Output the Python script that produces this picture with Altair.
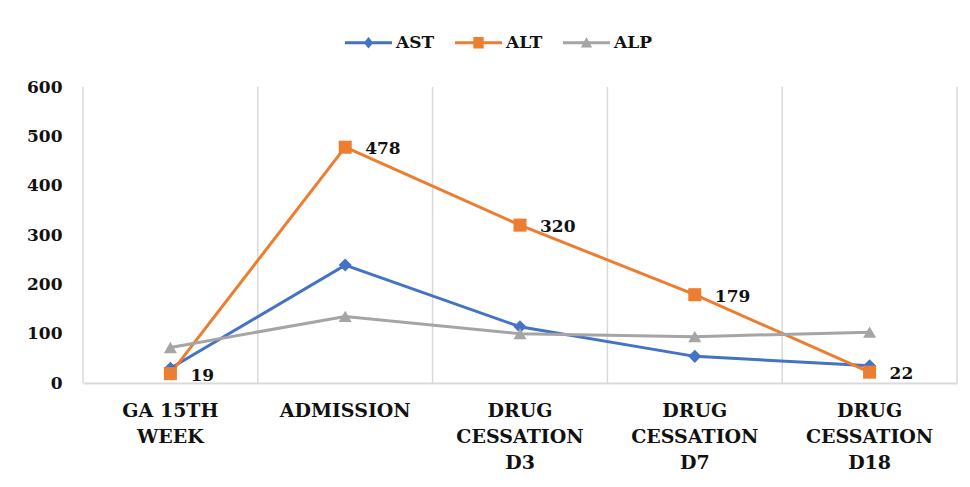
import altair as alt
import pandas as pd

categories = ["GA 15TH|WEEK", "ADMISSION", "DRUG|CESSATION|D3", "DRUG|CESSATION|D7", "DRUG|CESSATION|D18"]
series_names = ["AST", "ALT", "ALP"]
ast = [30, 239, 114, 54, 35]
alt_vals = [19, 478, 320, 179, 22]
alp = [72, 135, 100, 94, 103]
y_ticks = [0, 100, 200, 300, 400, 500, 600]
colors = ["#4472C4", "#ED7D31", "#A5A5A5"]
shapes = ["diamond", "square", "triangle-up"]

rows = []
for name, vals in zip(series_names, [ast, alt_vals, alp]):
    for c, v in zip(categories, vals):
        rows.append({"cat": c, "series": name, "value": v})
df = pd.DataFrame(rows)

FONT = "DejaVu Serif"

# legend symbols: line segment + marker, drawn as filled paths
seg = "M-1,-0.064H1V0.064H-1Z"
legend_shapes = [
    seg + "M0,-0.24L0.2,0L0,0.24L-0.2,0Z",
    seg + "M-0.22,-0.24H0.22V0.24H-0.22Z",
    seg + "M0,-0.24L0.24,0.2L-0.24,0.2Z",
]

x_scale = alt.Scale(domain=categories, paddingInner=0, paddingOuter=0)
x_enc = alt.X("cat:N", sort=categories, scale=x_scale,
              axis=alt.Axis(title=None, labelExpr="split(datum.label, '|')", labelAngle=0,
                            labelFont=FONT, labelFontSize=19, labelFontWeight="bold",
                            labelColor="#111111", labelLineHeight=26, labelPadding=18,
                            labelBaseline="top", labelAlign="center",
                            ticks=False, domain=True, domainColor="#d9d9d9", domainWidth=2,
                            grid=False))
y_enc = alt.Y("value:Q", scale=alt.Scale(domain=[0, 600]),
              axis=alt.Axis(title=None, values=y_ticks, grid=False, domain=False, ticks=False,
                            labelFont=FONT, labelFontSize=17, labelFontWeight="bold",
                            labelColor="#111111", labelPadding=21))
color_scale = alt.Scale(domain=series_names, range=colors)
color_nolegend = alt.Color("series:N", sort=series_names, scale=color_scale, legend=None)

base = alt.Chart(df)

# vertical separators at band edges
grid_df = pd.DataFrame({"cat": categories, "lo": [0] * len(categories), "hi": [600] * len(categories)})
grid_start = alt.Chart(grid_df).mark_rule(color="#d9d9d9", strokeWidth=1.5).encode(
    x=alt.X("cat:N", sort=categories, scale=x_scale, bandPosition=0),
    y=alt.Y("lo:Q"), y2="hi:Q")
grid_end = alt.Chart(grid_df).transform_filter(
    alt.datum.cat == categories[-1]).mark_rule(color="#d9d9d9", strokeWidth=1.5).encode(
    x=alt.X("cat:N", sort=categories, scale=x_scale, bandPosition=1),
    y=alt.Y("lo:Q"), y2="hi:Q")

lines = base.mark_line(strokeWidth=3).encode(x=x_enc, y=y_enc, color=color_nolegend)
points = base.mark_point(filled=True, opacity=1, size=170).encode(
    x=x_enc, y=y_enc, color=color_nolegend,
    shape=alt.Shape("series:N", sort=series_names,
                    scale=alt.Scale(domain=series_names, range=shapes), legend=None),
)
labels = base.transform_filter(alt.datum.series == "ALT").mark_text(
    align="left", baseline="middle", dx=20, dy=2, font=FONT, fontSize=17, fontWeight="bold",
    color="#111111").encode(x=x_enc, y=y_enc, text="value:Q")

legend_cfg = alt.Legend(title=None, orient="none", direction="horizontal",
                        legendX=262, legendY=-68,
                        labelFont=FONT, labelFontSize=17, labelFontWeight="bold",
                        labelColor="#111111", labelOffset=4, columnPadding=20,
                        symbolSize=2209, symbolOpacity=1, symbolStrokeWidth=0)
legend_layer = base.transform_filter("false").mark_point(filled=True, opacity=1, size=2209).encode(
    x=x_enc, y=y_enc,
    color=alt.Color("series:N", sort=series_names, scale=color_scale, legend=legend_cfg),
    shape=alt.Shape("series:N", sort=series_names,
                    scale=alt.Scale(domain=series_names, range=legend_shapes), legend=legend_cfg),
)

chart = alt.layer(grid_start, grid_end, lines, points, labels, legend_layer).resolve_scale(
    shape="independent", color="independent"
).properties(
    width=874, height=296,
    autosize=alt.AutoSizeParams(type="none"),
    padding={"left": 75, "top": 79, "right": 5, "bottom": 96},
    background="white",
).configure_view(stroke=None)

chart.save("out.html", embed_options={"renderer": "svg", "actions": False})
